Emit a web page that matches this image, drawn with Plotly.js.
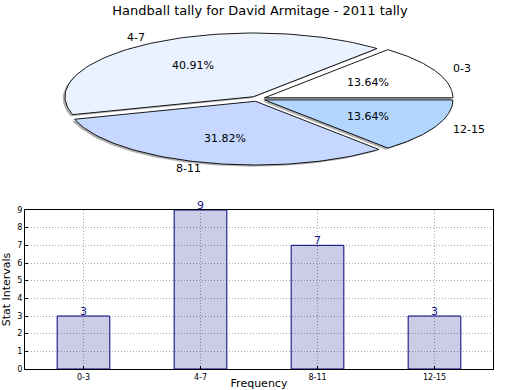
<!DOCTYPE html>
<html>
<head>
<meta charset="utf-8">
<script src="https://cdn.plot.ly/plotly-3.0.1.min.js"></script>
<style>html,body{margin:0;padding:0;background:#fff;}#chart{width:520px;height:390px;}</style>
</head>
<body>
<div id="chart"></div>
<script>
// ---- data ----
var categories = ['0-3', '4-7', '8-11', '12-15'];
var tallies = [3, 9, 7, 3];
var sliceColors = ['#ffffff', '#eaf2ff', '#c6d8ff', '#b3d6ff'];
var explodeFrac = [0.04, 0.04, 0.04, 0.04];
var yTicks = [0, 1, 2, 3, 4, 5, 6, 7, 8, 9];
var chartTitle = 'Handball tally for David Armitage - 2011 tally';

var FONT = 'DejaVu Sans, sans-serif';
var total = tallies.reduce(function (a, b) { return a + b; }, 0);

var traces = [];
var annotations = [];

// pie wedges built from the tallies (drawn as filled shapes on an unequal-aspect axis pair)
function wedge(i, dx, dy) {
  var start = 0;
  for (var k = 0; k < i; k++) start += tallies[k] / total * 2 * Math.PI;
  var end = start + tallies[i] / total * 2 * Math.PI;
  var mid = (start + end) / 2;
  var ox = explodeFrac[i] * Math.cos(mid) + dx;
  var oy = explodeFrac[i] * Math.sin(mid) + dy;
  var xs = [ox], ys = [oy];
  var n = 80;
  for (var s = 0; s <= n; s++) {
    var a = start + (end - start) * s / n;
    xs.push(ox + Math.cos(a));
    ys.push(oy + Math.sin(a));
  }
  xs.push(ox); ys.push(oy);
  return { xs: xs, ys: ys, mid: mid, ox: ox, oy: oy };
}

// shadows
for (var i = 0; i < tallies.length; i++) {
  var w = wedge(i, -0.012, -0.026);
  traces.push({
    type: 'scatter', mode: 'lines', x: w.xs, y: w.ys, xaxis: 'x2', yaxis: 'y2',
    fill: 'toself', fillcolor: 'rgba(110,110,110,0.55)', line: { width: 0 },
    hoverinfo: 'skip', showlegend: false
  });
}
// wedges
for (var i = 0; i < tallies.length; i++) {
  var w = wedge(i, 0, 0);
  traces.push({
    type: 'scatter', mode: 'lines', x: w.xs, y: w.ys, xaxis: 'x2', yaxis: 'y2',
    fill: 'toself', fillcolor: sliceColors[i], line: { color: '#000000', width: 0.9 },
    name: categories[i], hoverinfo: 'name', showlegend: false
  });
  var c = Math.cos(w.mid), s = Math.sin(w.mid);
  annotations.push({
    xref: 'x2', yref: 'y2', x: w.ox + 1.1 * c, y: w.oy + 1.1 * s,
    text: categories[i], showarrow: false,
    xanchor: c >= 0 ? 'left' : 'right', yanchor: 'middle',
    xshift: c >= 0 ? -2 : 6,
    font: { family: FONT, size: 11, color: '#000' }
  });
  annotations.push({
    xref: 'x2', yref: 'y2', x: w.ox + 0.6 * c, y: w.oy + 0.6 * s,
    text: (tallies[i] / total * 100).toFixed(2) + '%', showarrow: false,
    xanchor: 'center', yanchor: 'middle', xshift: 1, yshift: -1,
    font: { family: FONT, size: 11, color: '#000' }
  });
}

// bar chart
traces.push({
  type: 'bar', x: categories, y: tallies, xaxis: 'x', yaxis: 'y',
  width: 0.45,
  marker: { color: 'rgba(0,0,128,0.2)', line: { color: '#000080', width: 1 } },
  hoverinfo: 'x+y', showlegend: false
});
// value labels sitting on the bar tops
for (var i = 0; i < tallies.length; i++) {
  annotations.push({
    xref: 'x', yref: 'y', x: categories[i], y: tallies[i],
    text: String(tallies[i]), showarrow: false,
    xanchor: 'center', yanchor: 'bottom', yshift: -4,
    font: { family: FONT, size: 11, color: '#1a1a8a' }
  });
}

// pie axis geometry (pixels)
var W = 520, H = 390;
var cx = 257.6, cy = 98.85, rx = 188.5, ry = 63.7;

var layout = {
  width: W, height: H,
  margin: { l: 0, r: 0, t: 0, b: 0 },
  paper_bgcolor: '#ffffff', plot_bgcolor: 'rgba(0,0,0,0)',
  font: { family: FONT, color: '#000' },
  title: {
    text: chartTitle, x: 0.5, xanchor: 'center', y: 1 - 10 / H, yanchor: 'middle',
    font: { family: FONT, size: 13, color: '#000' }
  },
  showlegend: false,
  bargap: 0,
  xaxis: {
    domain: [25 / W, 493 / W], anchor: 'y', type: 'category',
    range: [-0.5, 3.5],
    showline: true, linecolor: '#000', linewidth: 1, mirror: true,
    ticks: 'inside', ticklen: 3, tickcolor: '#000',
    showgrid: true, gridcolor: '#a8a8a8', griddash: '1px,2px', gridwidth: 1,
    tickfont: { family: FONT, size: 8, color: '#000' },
    title: { text: 'Frequency', font: { family: FONT, size: 11, color: '#000' }, standoff: 12 },
    zeroline: false, fixedrange: true
  },
  yaxis: {
    domain: [(H - 369) / H, (H - 210) / H], anchor: 'x',
    range: [0, 9], tickvals: yTicks, ticktext: yTicks.map(String),
    showline: true, linecolor: '#000', linewidth: 1, mirror: true,
    ticks: 'inside', ticklen: 3, tickcolor: '#000',
    showgrid: true, gridcolor: '#a8a8a8', griddash: '1px,2px', gridwidth: 1,
    tickfont: { family: FONT, size: 8, color: '#000' },
    title: { text: 'Stat Intervals', font: { family: FONT, size: 11, color: '#000' }, standoff: 5 },
    zeroline: false, fixedrange: true
  },
  xaxis2: {
    domain: [0, 1], anchor: 'y2', visible: false, fixedrange: true,
    range: [-cx / rx, (W - cx) / rx]
  },
  yaxis2: {
    domain: [0, 1], anchor: 'x2', visible: false, fixedrange: true,
    range: [-(H - cy) / ry, cy / ry]
  },
  annotations: annotations
};

Plotly.newPlot('chart', traces, layout, { displayModeBar: false, staticPlot: true });
</script>
</body>
</html>
